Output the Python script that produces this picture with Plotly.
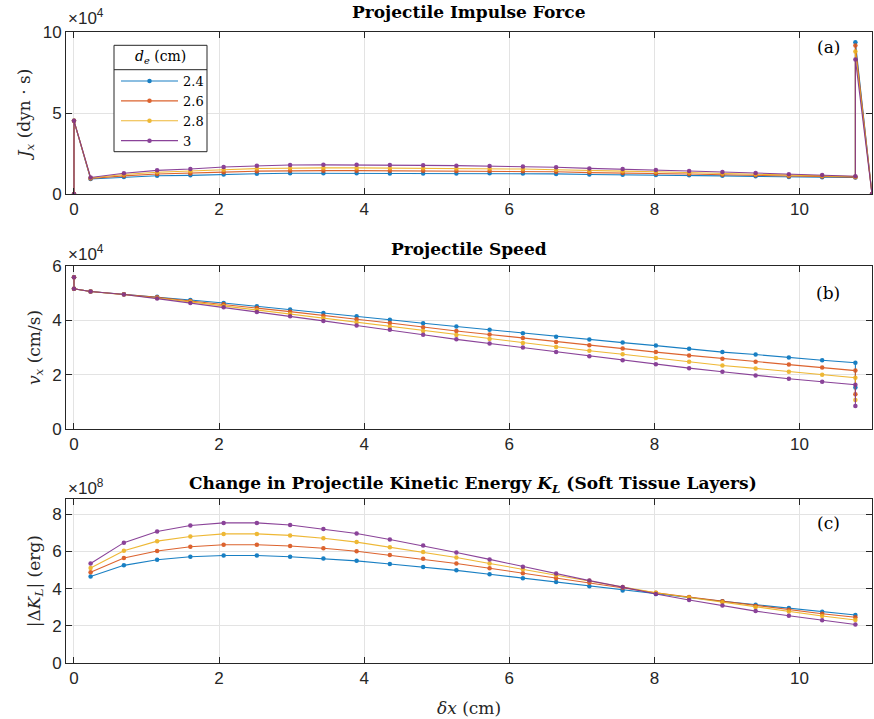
import plotly.graph_objects as go

# ---------------- data ----------------
series_names = ["2.4", "2.6", "2.8", "3"]
colors = ["#0072BD", "#D95319", "#EDB120", "#7E2F8E"]

# layer mid positions (cm)
x_mid = [0.229, 0.688, 1.146, 1.604, 2.063, 2.521, 2.979, 3.438, 3.896, 4.354,
         4.813, 5.271, 5.729, 6.188, 6.646, 7.104, 7.563, 8.021, 8.479, 8.938,
         9.396, 9.854, 10.313, 10.771]
x_entry = 0.0
x_exit = 11.0

# (a) impulse force J_x, units of 1e4 dyn*s
J_entry = 4.52
J_mid_24 = [0.93, 1.05, 1.13, 1.15, 1.21, 1.25, 1.28, 1.28, 1.28, 1.27, 1.27, 1.27,
            1.28, 1.27, 1.24, 1.20, 1.19, 1.17, 1.15, 1.12, 1.09, 1.05, 1.03, 1.02]
J_mid_26 = [0.96, 1.12, 1.23, 1.27, 1.35, 1.41, 1.44, 1.44, 1.44, 1.43, 1.43, 1.42,
            1.42, 1.40, 1.37, 1.32, 1.30, 1.27, 1.23, 1.19, 1.16, 1.10, 1.08, 1.04]
J_mid_28 = [0.99, 1.20, 1.34, 1.40, 1.50, 1.57, 1.61, 1.61, 1.61, 1.60, 1.59, 1.58,
            1.57, 1.54, 1.50, 1.44, 1.41, 1.37, 1.32, 1.27, 1.22, 1.16, 1.13, 1.07]
J_mid_30 = [1.02, 1.28, 1.46, 1.54, 1.67, 1.75, 1.79, 1.80, 1.80, 1.79, 1.77, 1.75,
            1.73, 1.69, 1.65, 1.58, 1.54, 1.48, 1.42, 1.36, 1.30, 1.22, 1.18, 1.10]
J_spike = [9.36, 9.16, 8.79, 8.31]

# (b) projectile speed v_x, units of 1e4 cm/s
v_impact = 5.59
v_start = 5.16
v_mid_24 = [5.06, 4.96, 4.87, 4.75, 4.64, 4.52, 4.40, 4.27, 4.15, 4.02, 3.89, 3.77,
            3.65, 3.52, 3.40, 3.29, 3.18, 3.07, 2.95, 2.83, 2.74, 2.63, 2.53, 2.44]
v_mid_26 = [5.06, 4.96, 4.85, 4.71, 4.59, 4.45, 4.32, 4.17, 4.04, 3.90, 3.75, 3.61,
            3.48, 3.35, 3.20, 3.08, 2.96, 2.83, 2.71, 2.59, 2.48, 2.37, 2.26, 2.15]
v_mid_28 = [5.06, 4.95, 4.82, 4.68, 4.53, 4.38, 4.23, 4.08, 3.92, 3.77, 3.61, 3.46,
            3.31, 3.17, 3.02, 2.88, 2.75, 2.61, 2.48, 2.34, 2.23, 2.11, 2.00, 1.89]
v_mid_30 = [5.06, 4.95, 4.80, 4.64, 4.48, 4.31, 4.15, 3.98, 3.81, 3.65, 3.47, 3.30,
            3.15, 3.00, 2.83, 2.68, 2.53, 2.38, 2.24, 2.11, 1.97, 1.85, 1.74, 1.63]
v_exit = [1.53, 1.28, 1.07, 0.85]

# (c) |Delta K_L|, units of 1e8 erg
K_24 = [4.65, 5.25, 5.55, 5.71, 5.78, 5.78, 5.71, 5.62, 5.49, 5.32, 5.16, 4.98,
        4.77, 4.56, 4.35, 4.12, 3.90, 3.71, 3.52, 3.32, 3.13, 2.95, 2.76, 2.58]
K_26 = [4.88, 5.64, 6.02, 6.25, 6.36, 6.36, 6.29, 6.17, 6.01, 5.80, 5.60, 5.35,
        5.09, 4.82, 4.56, 4.31, 4.05, 3.78, 3.55, 3.32, 3.07, 2.86, 2.65, 2.46]
K_28 = [5.11, 6.04, 6.55, 6.80, 6.94, 6.94, 6.86, 6.71, 6.50, 6.22, 5.97, 5.67,
        5.35, 5.04, 4.72, 4.42, 4.08, 3.78, 3.52, 3.27, 3.00, 2.77, 2.53, 2.31]
K_30 = [5.35, 6.47, 7.07, 7.39, 7.53, 7.53, 7.42, 7.21, 6.96, 6.64, 6.31, 5.94,
        5.57, 5.18, 4.81, 4.43, 4.08, 3.71, 3.39, 3.09, 2.79, 2.54, 2.30, 2.07]

x_ticks = [0, 2, 4, 6, 8, 10]
J_ticks = [0, 5, 10]
v_ticks = [0, 2, 4, 6]
K_ticks = [0, 2, 4, 6, 8]

J_mids = [J_mid_24, J_mid_26, J_mid_28, J_mid_30]
v_mids = [v_mid_24, v_mid_26, v_mid_28, v_mid_30]
K_all = [K_24, K_26, K_28, K_30]

# ---------------- figure ----------------
fig = go.Figure()
mk = dict(size=4.5, symbol="circle")
for i in range(4):
    xa = [x_entry, x_entry] + x_mid + [x_mid[-1], x_exit]
    ya = [0, J_entry] + J_mids[i] + [J_spike[i], 0]
    fig.add_trace(go.Scatter(x=xa, y=ya, mode="lines+markers", name=series_names[i],
                             line=dict(color=colors[i], width=1.1), marker=dict(color=colors[i], **mk),
                             xaxis="x", yaxis="y", legendgroup=series_names[i], showlegend=True,
                             opacity=0.9))
for i in range(4):
    xb = [x_entry, x_entry] + x_mid + [x_mid[-1]]
    yb = [v_impact, v_start] + v_mids[i] + [v_exit[i]]
    fig.add_trace(go.Scatter(x=xb, y=yb, mode="lines+markers", name=series_names[i],
                             line=dict(color=colors[i], width=1.1), marker=dict(color=colors[i], **mk),
                             xaxis="x2", yaxis="y2", legendgroup=series_names[i], showlegend=False,
                             opacity=0.9))
for i in range(4):
    fig.add_trace(go.Scatter(x=x_mid, y=K_all[i], mode="lines+markers", name=series_names[i],
                             line=dict(color=colors[i], width=1.1), marker=dict(color=colors[i], **mk),
                             xaxis="x3", yaxis="y3", legendgroup=series_names[i], showlegend=False,
                             opacity=0.9))

W, H = 874, 719
L, R, T, B = 66, 2, 32, 56
ph = H - T - B


def py(p):
    return (H - B - p) / ph


def px(p):
    return (p - L) / (W - L - R)


axis_col = "#262626"
grid_col = "#E3E3E3"
sans = "Liberation Sans, Arial, sans-serif"
serif = "DejaVu Serif, serif"
tick_font = dict(family=sans, size=17, color=axis_col)

common_x = dict(range=[-0.11, 11.0], tickvals=x_ticks, ticks="inside", ticklen=6,
                tickcolor=axis_col, showline=True, linecolor=axis_col, linewidth=1,
                mirror="ticks", showgrid=True, gridcolor=grid_col, gridwidth=1,
                zeroline=False, tickfont=tick_font, automargin=False)
common_y = dict(ticks="inside", ticklen=6, tickcolor=axis_col, showline=True,
                linecolor=axis_col, linewidth=1, mirror="ticks", showgrid=True,
                gridcolor=grid_col, gridwidth=1, zeroline=False, tickfont=tick_font,
                automargin=False)

dom_a = [py(194), 1.0]
dom_b = [py(429), py(266)]
dom_c = [0.0, py(499.3)]

ytitle_font = dict(family=serif, size=17, color=axis_col)
fig.update_layout(
    width=W, height=H,
    margin=dict(l=L, r=R, t=T, b=B),
    paper_bgcolor="white", plot_bgcolor="white",
    xaxis=dict(common_x, domain=[0, 1], anchor="y"),
    xaxis2=dict(common_x, domain=[0, 1], anchor="y2"),
    xaxis3=dict(common_x, domain=[0, 1], anchor="y3",
                title=dict(text="<i>δx</i> (cm)", font=dict(family=serif, size=17, color=axis_col), standoff=14)),
    yaxis=dict(common_y, domain=dom_a, anchor="x", range=[0, 10], tickvals=J_ticks,
               title=dict(text="<i>J<sub>x</sub></i> (dyn · s)", font=ytitle_font, standoff=7)),
    yaxis2=dict(common_y, domain=dom_b, anchor="x2", range=[0, 6], tickvals=v_ticks,
                title=dict(text="<i>v<sub>x</sub></i> (cm/s)", font=ytitle_font, standoff=7)),
    yaxis3=dict(common_y, domain=dom_c, anchor="x3", range=[0, 8.8], tickvals=K_ticks,
                title=dict(text="|Δ<i>K<sub>L</sub></i>| (erg)", font=ytitle_font, standoff=7)),
    legend=dict(x=px(116), y=py(66), xanchor="left", yanchor="top",
                borderwidth=0, bgcolor="rgba(0,0,0,0)",
                font=dict(family=serif, size=13, color="black"),
                tracegroupgap=0, itemwidth=57),
    showlegend=True,
)

# legend frame (white box with border) and header separator
fig.add_shape(type="rect", xref="paper", yref="paper", x0=px(114), x1=px(207),
              y0=py(151.7), y1=py(45.3), line=dict(color=axis_col, width=1),
              fillcolor="white", layer="above")
fig.add_shape(type="line", xref="paper", yref="paper", x0=px(114), x1=px(207),
              y0=py(69.7), y1=py(69.7), line=dict(color=axis_col, width=1), layer="above")

ann = []
ann.append(dict(text="<i>d<sub>e</sub></i> (cm)", x=px(160.5), y=py(57.5), xref="paper", yref="paper",
                showarrow=False, font=dict(family=serif, size=14, color="black"),
                xanchor="center", yanchor="middle"))
title_font = dict(family=serif, size=17, color="black")
ann.append(dict(text="<b>Projectile Impulse Force</b>", x=0.5, y=py(12), xref="paper", yref="paper",
                showarrow=False, font=title_font, xanchor="center", yanchor="middle"))
ann.append(dict(text="<b>Projectile Speed</b>", x=0.5, y=py(249), xref="paper", yref="paper",
                showarrow=False, font=title_font, xanchor="center", yanchor="middle"))
ann.append(dict(text="<b>Change in Projectile Kinetic Energy <i>K<sub>L</sub></i> (Soft Tissue Layers)</b>",
                x=px(473), y=py(484), xref="paper", yref="paper",
                showarrow=False, font=title_font, xanchor="center", yanchor="middle"))
exp_font = dict(family=sans, size=17, color=axis_col)
for txt, yy in [("×10<sup>4</sup>", 17), ("×10<sup>4</sup>", 253), ("×10<sup>8</sup>", 487)]:
    ann.append(dict(text=txt, x=px(66), y=py(yy), xref="paper", yref="paper", showarrow=False,
                    font=exp_font, xanchor="left", yanchor="middle"))
lab_font = dict(family=serif, size=17, color="black")
for txt, yy in [("(a)", 47), ("(b)", 293), ("(c)", 523)]:
    ann.append(dict(text=txt, x=px(828), y=py(yy), xref="paper", yref="paper", showarrow=False,
                    font=lab_font, xanchor="center", yanchor="middle"))
fig.update_layout(annotations=ann)

fig.write_html("out.html", config={"displayModeBar": False},
               post_script="document.body.style.margin='0px';document.body.style.overflow='hidden';")
